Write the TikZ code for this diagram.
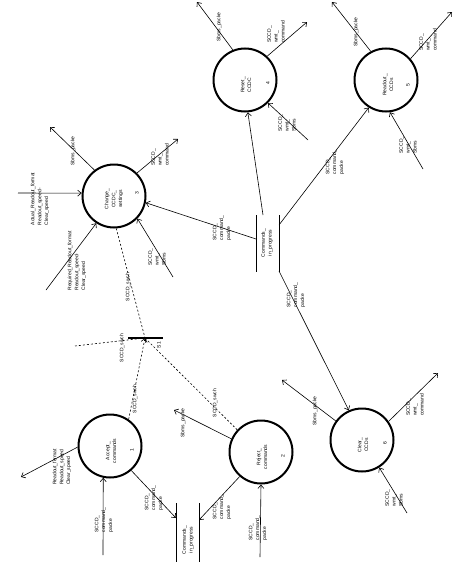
\documentclass[tikz,border=0pt]{standalone}
\usepackage{fontspec}
\setmainfont{Liberation Sans}
\usetikzlibrary{arrows.meta,calc}
\begin{document}
\begin{tikzpicture}[x=1pt,y=-1pt,
  proc/.style={circle,draw,line width=2pt,minimum size=63pt,inner sep=0pt},
  lbl/.style={rotate=90,font=\fontsize{5}{6.8}\selectfont,align=left,inner sep=0pt},
  ctext/.style={rotate=90,font=\fontsize{5}{6.8}\selectfont,align=center,inner sep=0pt},
  flow/.style={line width=0.6pt,-{Straight Barb[length=3.5pt,width=6pt]}},
  plain/.style={line width=0.6pt},
  swch/.style={line width=0.6pt,dash pattern=on 2pt off 2pt},
  swcharr/.style={swch,-{Straight Barb[length=3.5pt,width=6pt]}},
  storeline/.style={line width=0.8pt}
]
\useasboundingbox (0,0) rectangle (470,562);

% processes
\node[proc] (c1) at (110,446) {};
\node[ctext] (t1) at (111,451) {Accept\_\\commands};
\node[ctext] (n1) at (132,450) {1};
\node[proc] (c2) at (261,452) {};
\node[ctext] (t2) at (262,457) {Reject\_\\commands};
\node[ctext] (n2) at (283,456) {2};
\node[proc] (c3) at (114,196) {};
\node[ctext] (t3) at (114,199) {Change\_\\CCDC\_\\settings};
\node[ctext] (n3) at (137,193) {3};
\node[proc] (c4) at (245,80) {};
\node[ctext] (t4) at (246,85) {Reset\_\\CCDC};
\node[ctext] (n4) at (268,83) {4};
\node[proc] (c5) at (386,80) {};
\node[ctext] (t5) at (388,85) {Readout\_\\CCDs};
\node[ctext] (n5) at (408,85) {5};
\node[proc] (c6) at (362,440) {};
\node[ctext] (t6) at (363,445) {Clear\_\\CCDs};
\node[ctext] (n6) at (385,443) {6};

% stores
\draw[storeline] (256,215) -- (256,272);
\draw[storeline] (279,215) -- (279,272);
\node[ctext] (st1) at (267,243) {Commands\_\\in\_progress};
\coordinate (s1t) at (263,215);
\coordinate (s1l) at (256,239);
\coordinate (s1r) at (279,225);
\coordinate (s1b) at (279,271);

\draw[storeline] (176,503) -- (176,562);
\draw[storeline] (199,503) -- (199,562);
\node[ctext] (st2) at (188,540) {Commands\_\\in\_progress};
\coordinate (s2l) at (176,518);
\coordinate (s2r) at (199,520);

% junction
\draw[line width=1.8pt] (128,338) -- (163,338);
\coordinate (jn) at (145,338);
\node[lbl] (s1) at (159,345) {S1};
\coordinate (jl) at (75,346);
\draw[swch] (jl) -- (jn);
\node[lbl] at (122,348) {SCCD\_swch};

% Change CCDC settings
\coordinate (c3a) at (50,127);
\draw[flow] (c3.127) -- (c3a);
\node[lbl] at (73,151) {Sbms\_packe};
\coordinate (c3b) at (178,139);
\draw[flow] (c3.45) -- (c3b);
\node[lbl] at (160,155) {SCCD\_\\wmt\_\\command};
\coordinate (c3c) at (18,193);
\draw[flow] (c3c) -- (c3.175);
\node[lbl] at (40,199) {Actual\_Readout\_format\\Readout\_speed-\\Clear\_speed};
\coordinate (c3d) at (46,290);
\draw[flow] (c3d) -- (c3.237);
\node[lbl] at (77,261) {Required\_Readout\_format\\Readout\_speed-\\Clear\_speed};
\draw[swch] (c3.274) -- (jn);
\node[lbl] at (128,287) {SCCD\_swch};
\coordinate (c3e) at (173,277);
\draw[flow] (c3e) -- (c3.316);
\node[lbl] at (157,257) {SCCD\_\\wmt\_\\Sbms};
\draw[flow] (s1l) -- (c3.348);
\node[lbl] at (222,228) {SCCD\_\\command\_\\packe};

% Reset CCDC
\coordinate (c4a) at (197,2);
\draw[flow] (c4.112) -- (c4a);
\node[lbl] at (219,27) {Sbms\_packe};
\coordinate (c4b) at (307,22);
\draw[flow] (c4.47) -- (c4b);
\node[lbl] at (276,32) {SCCD\_\\wmt\_\\command};
\coordinate (c4c) at (308,140);
\draw[flow] (c4c) -- (c4.315);
\node[lbl] at (287,123) {SCCD\_\\wmt\_\\Sbms};
\draw[flow] (s1t) -- (c4.275);

% Readout CCDs
\coordinate (c5a) at (332,2);
\draw[flow] (c5.118) -- (c5a);
\node[lbl] at (356,32) {Sbms\_packe};
\coordinate (c5b) at (452,12);
\draw[flow] (c5.41) -- (c5b);
\node[lbl] at (428,40) {SCCD\_\\wmt\_\\command};
\coordinate (c5c) at (423,169);
\draw[flow] (c5c) -- (c5.277);
\node[lbl] at (408,145) {SCCD\_\\wmt\_\\Sbms};
\draw[flow] (s1r) -- (c5.238);
\node[lbl] at (335,162) {SCCD\_\\command\_\\packe};

% Clear CCDs
\coordinate (c6a) at (282,380);
\draw[flow] (c6.144) -- (c6a);
\node[lbl] at (315,411) {Sbms\_packe};
\coordinate (c6b) at (438,373);
\draw[flow] (c6.35) -- (c6b);
\node[lbl] at (415,405) {SCCD\_\\wmt\_\\command};
\coordinate (c6c) at (407,513);
\draw[flow] (c6c) -- (c6.302);
\node[lbl] at (394,498) {SCCD\_\\wmt\_\\Sbms};
\draw[flow] (s1b) -- (c6.114);
\node[lbl] at (296,295) {SCCD\_\\command\_\\packe};

% Accept commands
\coordinate (c1a) at (21,477);
\draw[flow] (c1.182) -- (c1a);
\node[lbl] at (62,467) {Readout\_format\\Readout\_speed\\Clear\_speed};
\coordinate (c1b) at (103,555);
\draw[flow] (c1b) -- (c1.258);
\node[lbl] at (104,520) {SCCD\_\\command\_\\packe};
\draw[flow] (c1.311) -- (s2l);
\node[lbl] at (154,498) {SCCD\_\\command\_\\packe};
\draw[swcharr] (c1.55) -- (jn);
\node[lbl] at (135,399) {SCCD\_swch};

% Reject commands
\coordinate (c2a) at (174,410);
\draw[flow] (c2.156) -- (c2a);
\node[lbl] at (183,423) {Sbms\_packe};
\draw[swcharr] (c2.137) -- (jn);
\node[lbl] at (215,403) {SCCD\_swch};
\draw[flow] (c2.229) -- (s2r);
\node[lbl] at (222,507) {SCCD\_\\command\_\\packe};
\coordinate (c2b) at (260,557);
\draw[flow] (c2b) -- (c2.270);
\node[lbl] at (258,528) {SCCD\_\\command\_\\packe};
\end{tikzpicture}
\end{document}
